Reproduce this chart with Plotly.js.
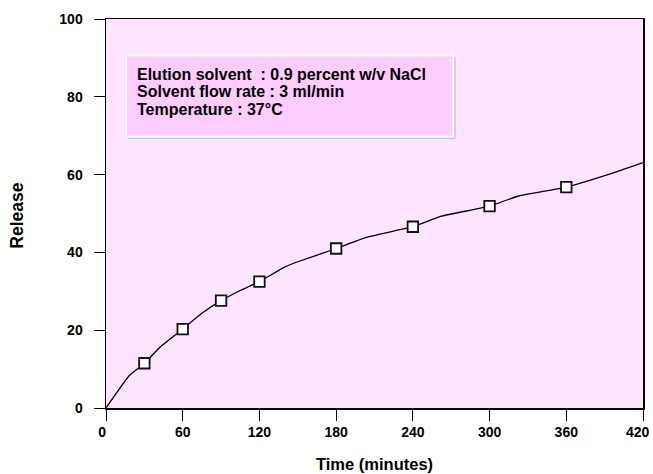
<!DOCTYPE html>
<html>
<head>
<meta charset="utf-8">
<script src="https://cdn.plot.ly/plotly-3.0.1.min.js"></script>
<style>html,body{margin:0;padding:0;background:#fff;}#chart{width:653px;height:474px;}</style>
</head>
<body>
<div id="chart"></div>
<script>
// Measured release points (markers)
var pointTime = [30, 60, 90, 120, 180, 240, 300, 360];
var pointRelease = [11.5, 20.3, 27.6, 32.5, 41.0, 46.6, 51.9, 56.8];
// Curve
var curveTime = [0, 18.4, 30, 42.4, 60, 74.7, 90, 105, 120, 139.7, 150, 180, 203.1, 240, 262.4, 300, 322.5, 360, 398, 420];
var curveRelease = [0, 8.4, 11.5, 15.7, 20.3, 24.3, 27.6, 30.2, 32.5, 36.2, 37.6, 41.0, 43.8, 46.6, 49.3, 51.9, 54.5, 56.8, 60.6, 63.1];
var xTicks = [0, 60, 120, 180, 240, 300, 360, 420];
var xTickLabels = ["0", "60", "120", "180", "240", "300", "360", "420"];
var yTicks = [0, 20, 40, 60, 80, 100];
var yTickLabels = ["0", "20", "40", "60", "80", "100"];
var infoLines = ["Elution solvent \u00a0: 0.9 percent w/v NaCl", "Solvent flow rate : 3 ml/min", "Temperature : 37°C"];

var fontFam = "Liberation Sans, Arial, sans-serif";
var tickFs = 14;
var traces = [
  {x: curveTime, y: curveRelease, mode: 'lines', line: {color: '#000', width: 1.3, shape: 'spline', smoothing: 0.4}, hoverinfo: 'skip', showlegend: false},
  {x: pointTime, y: pointRelease, mode: 'markers', marker: {symbol: 'square', size: 10.5, color: '#fff', line: {color: '#111', width: 1.8}}, showlegend: false}
];
var lastIdx = xTicks.length - 1;
// the first label sits a little left of its tick, the last one is kept inside the page
var shownXText = xTickLabels.map(function(t, i){
  if (i === 0) return t + '\u00a0\u00a0';
  if (i === lastIdx) return '';
  return t;
});
var lineY = [0.858, 0.813, 0.767];
var annotations = infoLines.map(function(t, i){
  return {xref: 'paper', yref: 'paper', x: 0.054, y: lineY[i], xanchor: 'left', yanchor: 'middle', text: '<b>' + t + '</b>', showarrow: false, font: {family: fontFam, size: 16, color: '#000'}};
});
annotations.push({xref: 'x', yref: 'paper', x: xTicks[lastIdx], y: -0.0617, xanchor: 'right', yanchor: 'middle', xshift: 8, text: xTickLabels[lastIdx], showarrow: false, borderpad: 0, font: {family: fontFam, size: tickFs, color: '#000', weight: 'bold'}});
annotations.push({xref: 'paper', yref: 'paper', x: 0.5, y: -0.145, xanchor: 'center', yanchor: 'middle', text: '<b>Time (minutes)</b>', showarrow: false, font: {family: fontFam, size: 16.5, color: '#000'}});
annotations.push({xref: 'paper', yref: 'paper', x: -0.166, y: 0.494, xanchor: 'center', yanchor: 'middle', textangle: -90, text: '<b>Release</b>', showarrow: false, font: {family: fontFam, size: 17.5, color: '#000'}});

var axisCommon = {ticks: 'outside', ticklen: 11, tickwidth: 1, tickcolor: '#000', showline: true, linecolor: '#000', linewidth: 1.5, mirror: true, showgrid: false, zeroline: false, tickfont: {family: fontFam, size: tickFs, color: '#000', weight: 'bold'}, fixedrange: true};
var layout = {
  width: 653, height: 474,
  margin: {l: 106, r: 10, t: 19, b: 66},
  paper_bgcolor: '#ffffff',
  plot_bgcolor: '#FFE4FF',
  showlegend: false,
  xaxis: Object.assign({}, axisCommon, {range: [0, 420], tickvals: xTicks, ticktext: shownXText}),
  yaxis: Object.assign({}, axisCommon, {range: [0, 100], tickvals: yTicks, ticktext: yTickLabels, ticklabelstandoff: 8}),
  shapes: [
    {type: 'rect', xref: 'paper', yref: 'paper', x0: 0.0410, x1: 0.6510, y0: 0.6920, y1: 0.9020, fillcolor: '#BBBBBB', line: {width: 0}, layer: 'above'},
    {type: 'rect', xref: 'paper', yref: 'paper', x0: 0.0373, x1: 0.6470, y0: 0.6970, y1: 0.9070, fillcolor: '#FFCCFF', line: {color: '#ffffff', width: 2}, layer: 'above'}
  ],
  annotations: annotations
};
Plotly.newPlot('chart', traces, layout, {displayModeBar: false, staticPlot: true});
</script>
</body>
</html>
